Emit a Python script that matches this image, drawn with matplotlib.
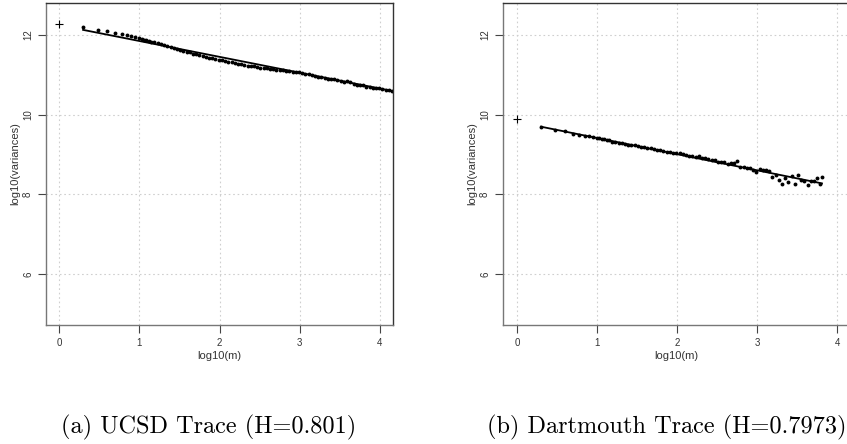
import numpy as np
import matplotlib
matplotlib.use("Agg")
from matplotlib import pyplot as plt

# variance-time plots: log10(m) against log10(variance of aggregated series)
ucsd_logm = [0.30, 0.48, 0.60, 0.70, 0.78, 0.85, 0.90, 0.95, 1.00, 1.03,
             1.06, 1.09, 1.12, 1.15, 1.19, 1.23, 1.27, 1.31, 1.35, 1.39,
             1.43, 1.47, 1.51, 1.55, 1.59, 1.63, 1.67, 1.71, 1.75, 1.79,
             1.83, 1.87, 1.91, 1.95, 1.99, 2.03, 2.07, 2.11, 2.15, 2.19,
             2.23, 2.27, 2.31, 2.35, 2.39, 2.43, 2.47, 2.51, 2.55, 2.59,
             2.63, 2.67, 2.71, 2.75, 2.79, 2.83, 2.87, 2.91, 2.95, 2.99,
             3.03, 3.07, 3.11, 3.15, 3.19, 3.23, 3.27, 3.31, 3.35, 3.39,
             3.43, 3.47, 3.51, 3.55, 3.59, 3.63, 3.67, 3.71, 3.75, 3.79,
             3.83, 3.87, 3.91, 3.95, 3.99, 4.03, 4.07, 4.11, 4.15]
ucsd_logvar = [12.19, 12.13, 12.09, 12.05, 12.01, 11.99, 11.97, 11.94, 11.92, 11.90,
               11.88, 11.87, 11.85, 11.83, 11.81, 11.79, 11.76, 11.74, 11.72, 11.69,
               11.67, 11.65, 11.62, 11.60, 11.58, 11.56, 11.53, 11.51, 11.49, 11.47,
               11.45, 11.43, 11.42, 11.39, 11.38, 11.36, 11.34, 11.33, 11.31, 11.29,
               11.28, 11.26, 11.25, 11.23, 11.22, 11.21, 11.19, 11.18, 11.17, 11.16,
               11.15, 11.14, 11.13, 11.12, 11.11, 11.10, 11.09, 11.08, 11.07, 11.06,
               11.04, 11.01, 11.01, 11.00, 10.98, 10.95, 10.95, 10.93, 10.90, 10.90,
               10.89, 10.86, 10.84, 10.83, 10.84, 10.81, 10.76, 10.74, 10.74, 10.74,
               10.70, 10.70, 10.67, 10.66, 10.66, 10.65, 10.62, 10.61, 10.58]
ucsd_m1 = 12.28      # m = 1, not used in the fit
ucsd_H = 0.801
ucsd_icpt = 12.245

dart_logm = [0.30, 0.48, 0.60, 0.70, 0.78, 0.85, 0.90, 0.95, 1.00, 1.03,
             1.06, 1.09, 1.12, 1.15, 1.19, 1.23, 1.27, 1.31, 1.35, 1.39,
             1.43, 1.47, 1.51, 1.55, 1.59, 1.63, 1.67, 1.71, 1.75, 1.79,
             1.83, 1.87, 1.91, 1.95, 1.99, 2.03, 2.07, 2.11, 2.15, 2.19,
             2.23, 2.27, 2.31, 2.35, 2.39, 2.43, 2.47, 2.51, 2.55, 2.59,
             2.63, 2.67, 2.71, 2.75, 2.79, 2.83, 2.87, 2.91, 2.95, 2.99,
             3.03, 3.07, 3.11, 3.15, 3.19, 3.23, 3.27, 3.31, 3.35, 3.39,
             3.43, 3.47, 3.51, 3.55, 3.59, 3.63, 3.67, 3.71, 3.75, 3.79,
             3.81]
dart_logvar = [9.70, 9.61, 9.58, 9.52, 9.50, 9.46, 9.46, 9.43, 9.42, 9.40,
               9.38, 9.38, 9.35, 9.35, 9.32, 9.32, 9.29, 9.29, 9.27, 9.24,
               9.24, 9.23, 9.21, 9.18, 9.18, 9.16, 9.15, 9.13, 9.11, 9.11,
               9.09, 9.06, 9.06, 9.04, 9.04, 9.03, 9.00, 8.99, 8.96, 8.97,
               8.93, 8.95, 8.90, 8.91, 8.88, 8.85, 8.86, 8.82, 8.81, 8.82,
               8.77, 8.78, 8.78, 8.83, 8.69, 8.68, 8.65, 8.65, 8.60, 8.55,
               8.64, 8.62, 8.60, 8.58, 8.44, 8.49, 8.37, 8.27, 8.42, 8.31,
               8.47, 8.26, 8.48, 8.37, 8.34, 8.23, 8.34, 8.33, 8.40, 8.27,
               8.44]
dart_m1 = 9.89
dart_H = 0.7973
dart_icpt = 9.8175

xticks = [0, 1, 2, 3, 4]
yticks = [6, 8, 10, 12]

W, H = 847, 444
fig = plt.figure(figsize=(W / 100, H / 100), dpi=100)
plt.rcParams["font.family"] = ["Liberation Sans", "DejaVu Sans"]


def vtplot(ax, lx, ly, m1, hurst, icpt, xlim):
    lx = np.asarray(lx)
    ax.plot(lx, ly, "o", color="k", ms=2.8, mew=0)
    ax.plot([0], [m1], "+", color="k", ms=5.5, mew=0.8)
    # least squares line, slope 2H - 2
    xf = np.array([lx[0], lx[-1]])
    ax.plot(xf, icpt + (2 * hurst - 2) * xf, "k-", lw=1.3)
    ax.set_xlim(*xlim)
    ax.set_ylim(4.72, 12.80)
    ax.set_xticks(xticks)
    ax.set_yticks(yticks)
    ax.grid(True, color="#cfcfcf", ls=(0, (1.5, 2.5)), lw=0.8)
    ax.set_axisbelow(True)
    ax.tick_params(direction="out", length=5.8, width=0.8, color="#444",
                   labelsize=7, labelcolor="#333", pad=3.5)
    for lab in ax.get_yticklabels():
        lab.set_rotation(90)
        lab.set_va("center")
    for side in ["left", "bottom"]:
        ax.spines[side].set_color("#777")
    for side in ["top", "right"]:
        ax.spines[side].set_color("#333")
    for sp in ax.spines.values():
        sp.set_linewidth(1.0)
    ax.set_xlabel("log10(m)", fontsize=8, color="#333", labelpad=2)
    ax.set_ylabel("log10(variances)", fontsize=8, color="#333", labelpad=2)


ax1 = fig.add_axes([46 / W, 119 / H, 347 / W, 322 / H])
vtplot(ax1, ucsd_logm, ucsd_logvar, ucsd_m1, ucsd_H, ucsd_icpt, (-0.162, 4.162))

ax2 = fig.add_axes([503 / W, 119 / H, 347 / W, 322 / H])
vtplot(ax2, dart_logm, dart_logvar, dart_m1, dart_H, dart_icpt, (-0.175, 4.16))

fig.text(209 / W, 1 - 427 / H, "(a) UCSD Trace (H=%s)" % ucsd_H,
         family="cmr10", fontsize=17.5, ha="center", va="center")
fig.text(667 / W, 1 - 427 / H, "(b) Dartmouth Trace (H=%s)" % dart_H,
         family="cmr10", fontsize=17.5, ha="center", va="center")

fig.savefig("out.png", dpi=100)
